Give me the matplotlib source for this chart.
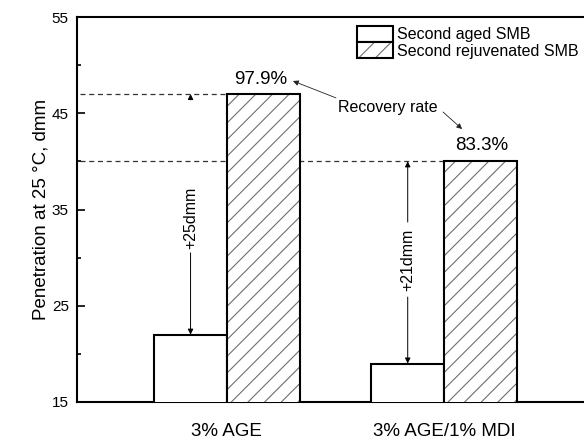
import matplotlib
matplotlib.use('Agg')
import matplotlib.pyplot as plt
from matplotlib.patches import Patch
from matplotlib.legend_handler import HandlerTuple
import numpy as np

plt.rcParams['font.family'] = ['Liberation Sans', 'DejaVu Sans']
plt.rcParams['hatch.linewidth'] = 0.8

# ── 数据 ──────────────────────────────────────────────
categories = ['3% AGE', '3% AGE/1% MDI']
aged = [22, 19]
rejuvenated = [47, 40]
recovery = ['97.9%', '83.3%']
gains = ['+25dmm', '+21dmm']
series_names = ['Second aged SMB', 'Second rejuvenated SMB']

x = np.arange(1, len(categories) + 1)
w = 0.335
HATCH_C = '#6e6e6e'

fig = plt.figure(figsize=(5.84, 4.42), dpi=100)
fig.patch.set_facecolor('white')
ax = fig.add_axes([0.132, 0.0905, 0.885, 0.871])

# 参考线（在柱子后面）
ax.hlines(rejuvenated[0], 0, x[0], colors='#333333', lw=0.9, ls=(0, (4, 3)), zorder=1)
ax.hlines(rejuvenated[1], 0, x[1], colors='#333333', lw=0.9, ls=(0, (4, 3)), zorder=1)

# 柱子
ax.bar(x - w/2, aged, w, color='white', edgecolor='black', lw=1.5, zorder=3)
ax.bar(x + w/2, rejuvenated, w, color='white', edgecolor=HATCH_C, hatch='//', lw=0, zorder=3)
ax.bar(x + w/2, rejuvenated, w, fill=False, edgecolor='black', lw=1.5, zorder=4)

# 恢复率标注
ax.text(x[0] + 0.157, 48.55, recovery[0], ha='center', va='center', fontsize=13.5)
ax.text(x[1] + 0.175, 41.6, recovery[1], ha='center', va='center', fontsize=13.5)
ax.text(1.742, 45.65, 'Recovery rate', ha='center', va='center', fontsize=11.5)
arr = dict(arrowstyle='-|>', color='#222222', lw=0.6, mutation_scale=8, shrinkA=0, shrinkB=0)
ax.annotate('', xy=(1.304, 48.35), xytext=(1.502, 46.6), arrowprops=arr)
ax.annotate('', xy=(2.083, 43.36), xytext=(1.995, 45.13), arrowprops=arr)

# 增量标注
ax1x = x - w/2
arr2 = dict(arrowstyle='-|>', color='black', lw=0.7, mutation_scale=8, shrinkA=0, shrinkB=0)
ax.annotate('', xy=(ax1x[0], rejuvenated[0]), xytext=(ax1x[0], 46.4), arrowprops=arr2)
ax.annotate('', xy=(ax1x[0], aged[0]), xytext=(ax1x[0], 30.5), arrowprops=arr2)
ax.text(ax1x[0], 34.1, gains[0], rotation=90, ha='center', va='center', fontsize=11.5)
ax.annotate('', xy=(ax1x[1], rejuvenated[1]), xytext=(ax1x[1], 33.7), arrowprops=arr2)
ax.annotate('', xy=(ax1x[1], aged[1]), xytext=(ax1x[1], 25.9), arrowprops=arr2)
ax.text(ax1x[1], 29.75, gains[1], rotation=90, ha='center', va='center', fontsize=11.5)

# 坐标轴
ax.set_xlim(0.31, 2.69)
ax.set_ylim(15, 55)
ax.set_yticks([15, 25, 35, 45, 55])
ax.set_yticks([20, 30, 40, 50], minor=True)
ax.tick_params(axis='y', which='major', direction='in', length=6, width=1.2, labelsize=11, pad=6)
ax.tick_params(axis='y', which='minor', direction='in', length=3, width=1.2)
ax.set_xticks(x)
ax.set_xticklabels(categories, fontsize=13.5)
ax.tick_params(axis='x', length=0, pad=15)
ax.set_ylabel('Penetration at 25 °C, dmm', fontsize=13.5, labelpad=1.5)
for s in ax.spines.values():
    s.set_linewidth(1.5)

h1 = Patch(facecolor='white', edgecolor='black', lw=1.5)
h2a = Patch(facecolor='white', edgecolor=HATCH_C, hatch='//', lw=0)
h2b = Patch(fill=False, edgecolor='black', lw=1.5)
ax.legend([h1, (h2a, h2b)], series_names, handler_map={tuple: HandlerTuple(ndivide=1)},
          loc='upper left', bbox_to_anchor=(0.5416, 0.977), frameon=False, fontsize=11.5,
          handlelength=2.25, handleheight=1.15, labelspacing=0, handletextpad=0.25,
          borderaxespad=0, borderpad=0)

plt.savefig('out.png', dpi=100, facecolor='white')
